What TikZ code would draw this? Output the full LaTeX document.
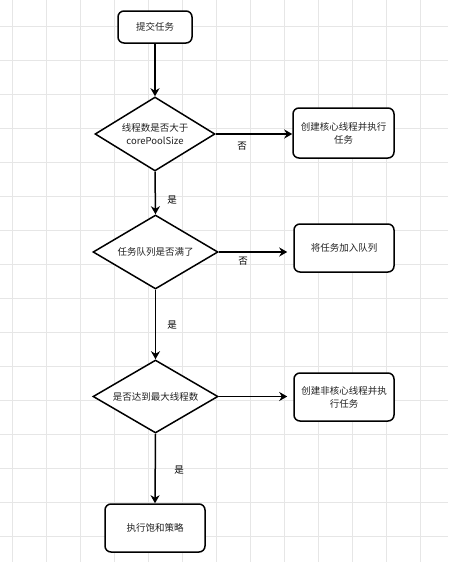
\documentclass[tikz,border=0pt]{standalone}
\usepackage{fontspec}
\setmainfont{Noto Sans CJK SC}
\usetikzlibrary{shapes.geometric,arrows.meta}
\definecolor{gridgray}{HTML}{E6E6E6}
\definecolor{txtgray}{HTML}{222222}
\tikzset{
  gridline/.style={draw=gridgray, line width=0.8pt},
  procbox/.style={draw=black, fill=white, line width=1.5pt, rounded corners=6pt, inner sep=0pt, align=center, text=txtgray, font=\fontsize{9.5}{13}\selectfont},
  decision/.style={draw=black, fill=white, line width=1.5pt, shape=diamond, shape aspect=1.6, inner sep=0pt, align=center, text=txtgray, font=\fontsize{9.5}{13}\selectfont},
  flow/.style={draw=black, line width=1.5pt, -{Stealth[length=8pt,width=9pt,inset=2.5pt]}},
  lbl/.style={text=black, font=\fontsize{9.5}{12}\selectfont, inner sep=0pt},
}
\begin{document}
\begin{tikzpicture}[x=1pt,y=-1pt]
\useasboundingbox (0,0) rectangle (448,562);
\fill[white] (0,0) rectangle (448,562);
\foreach \k in {0,...,12} { \draw[gridline] ({12.7+34*\k},0) -- ({12.7+34*\k},562); }
\foreach \k in {0,...,15} { \draw[gridline] (0,{26.7+34*\k}) -- (448,{26.7+34*\k}); }

\node[procbox, minimum width=74pt, minimum height=32pt] (start) at (155,27) {提交任务};
\node[decision, minimum width=120pt, minimum height=74pt] (d1) at (155,134) {线程数是否大于\\corePoolSize};
\node[procbox, minimum width=101pt, minimum height=50pt] (b1) at (343.5,133) {创建核心线程并执行\\任务};
\node[decision, minimum width=125pt, minimum height=74pt] (d2) at (155.5,252) {任务队列是否满了};
\node[procbox, minimum width=100pt, minimum height=48pt] (b2) at (344,248) {将任务加入队列};
\node[decision, minimum width=125pt, minimum height=73pt] (d3) at (155.5,396.5) {是否达到最大线程数};
\node[procbox, minimum width=100pt, minimum height=48pt] (b3) at (344,397) {创建非核心线程并执\\行任务};
\node[procbox, minimum width=100pt, minimum height=48pt] (b4) at (155,528) {执行饱和策略};

\draw[flow] (start.south) -- (d1.north);
\draw[flow] (d1.east) -- (d1.east -| b1.west);
\draw[flow] (d1.south) -- (d2.north);
\draw[flow, shorten >=6pt] (d2.east) -- (d2.east -| b2.west);
\draw[flow] (d2.south) -- (d3.north);
\draw[flow, shorten >=6pt] (d3.east) -- (d3.east -| b3.west);
\draw[flow] (d3.south) -- (b4.north);

\node[lbl] (l1) at (242,146) {否};
\node[lbl] (l2) at (172,200) {是};
\node[lbl] (l3) at (243,261) {否};
\node[lbl] (l4) at (172,325) {是};
\node[lbl] (l5) at (179,470) {是};
\end{tikzpicture}
\end{document}
